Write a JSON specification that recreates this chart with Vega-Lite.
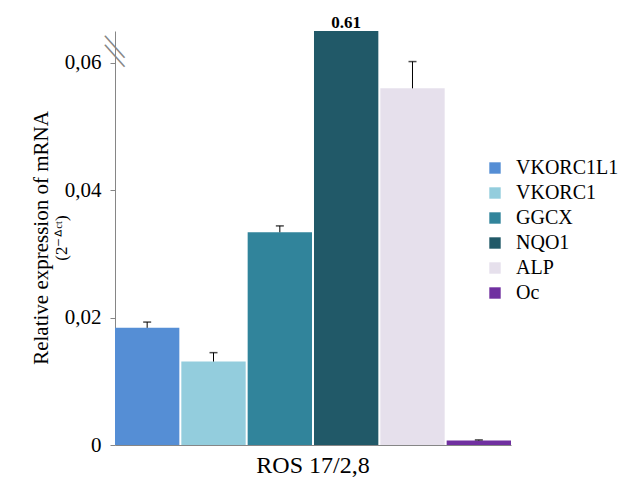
{
  "$schema": "https://vega.github.io/schema/vega-lite/v6.json",
  "width": 396,
  "height": 414,
  "padding": {"left": 31, "top": 14, "right": 110, "bottom": 5},
  "background": "white",
  "config": {"view": {"stroke": null}, "font": "Liberation Serif"},
  "title": {
    "text": "Relative expression  of mRNA",
    "subtitle": "(2⁻ᐞᶜᵗ)",
    "orient": "left",
    "anchor": "middle",
    "font": "Liberation Serif",
    "fontSize": 21,
    "fontWeight": "normal",
    "color": "black",
    "subtitleFont": "Liberation Serif",
    "subtitleFontSize": 17,
    "subtitleColor": "black",
    "subtitlePadding": 2,
    "offset": -6
  },
  "data": {
    "values": [
      {"group": "ROS 17/2,8", "gene": "VKORC1L1", "value": 0.0184, "upper": 0.0193},
      {"group": "ROS 17/2,8", "gene": "VKORC1", "value": 0.0131, "upper": 0.0145},
      {"group": "ROS 17/2,8", "gene": "GGCX", "value": 0.0334, "upper": 0.0344},
      {"group": "ROS 17/2,8", "gene": "NQO1", "value": 0.61, "upper": null},
      {"group": "ROS 17/2,8", "gene": "ALP", "value": 0.056, "upper": 0.0602},
      {"group": "ROS 17/2,8", "gene": "Oc", "value": 0.0007, "upper": 0.0008}
    ]
  },
  "layer": [
    {
      "mark": {"type": "bar", "clip": true},
      "encoding": {
        "x": {"field": "group", "type": "nominal", "scale": {"paddingInner": 0, "paddingOuter": 0},
          "axis": {"title": null, "labelAngle": 0, "ticks": false, "domainColor": "#868686", "labelFont": "Liberation Serif", "labelFontSize": 24, "labelColor": "black", "labelPadding": 8, "labelDx": 18}},
        "xOffset": {"field": "gene", "type": "nominal", "sort": ["VKORC1L1", "VKORC1", "GGCX", "NQO1", "ALP", "Oc"], "scale": {"paddingInner": 0.03, "paddingOuter": 0}},
        "y": {"field": "value", "type": "quantitative", "scale": {"domain": [0, 0.065], "nice": false},
          "axis": {"title": null, "values": [0, 0.02, 0.04, 0.06], "grid": false, "domainColor": "#868686", "tickColor": "#868686", "tickSize": 5, "labelFont": "Liberation Serif", "labelFontSize": 21, "labelColor": "black", "labelPadding": 9,
            "labelExpr": "datum.value == 0 ? '0' : replace(format(datum.value, '.2f'), '.', ',')"}},
        "color": {"field": "gene", "type": "nominal", "sort": ["VKORC1L1", "VKORC1", "GGCX", "NQO1", "ALP", "Oc"],
          "scale": {"domain": ["VKORC1L1", "VKORC1", "GGCX", "NQO1", "ALP", "Oc"], "range": ["#558ED5", "#93CDDD", "#31849B", "#215968", "#E6E0EC", "#7030A0"]},
          "legend": {"title": null, "orient": "none", "legendX": 370, "legendY": 127, "symbolType": "square", "symbolSize": 130, "symbolStrokeWidth": 0, "labelFont": "Liberation Serif", "labelFontSize": 20, "labelColor": "black", "labelLimit": 300, "rowPadding": 5, "labelOffset": 11}}
      }
    },
    {
      "transform": [{"filter": "datum.upper != null"}],
      "mark": {"type": "rule", "color": "black", "strokeWidth": 1},
      "encoding": {
        "x": {"field": "group", "type": "nominal"},
        "xOffset": {"field": "gene", "type": "nominal", "sort": ["VKORC1L1", "VKORC1", "GGCX", "NQO1", "ALP", "Oc"]},
        "y": {"field": "value", "type": "quantitative"},
        "y2": {"field": "upper"}
      }
    },
    {
      "transform": [{"filter": "datum.upper != null"}],
      "mark": {"type": "tick", "color": "black", "thickness": 1.5, "size": 8, "orient": "horizontal"},
      "encoding": {
        "x": {"field": "group", "type": "nominal"},
        "xOffset": {"field": "gene", "type": "nominal", "sort": ["VKORC1L1", "VKORC1", "GGCX", "NQO1", "ALP", "Oc"]},
        "y": {"field": "upper", "type": "quantitative"}
      }
    },
    {
      "transform": [{"filter": "datum.gene == 'NQO1'"}],
      "mark": {"type": "text", "font": "Liberation Serif", "fontSize": 17, "fontWeight": "bold", "baseline": "bottom", "dy": 1, "color": "black"},
      "encoding": {
        "x": {"field": "group", "type": "nominal"},
        "xOffset": {"field": "gene", "type": "nominal", "sort": ["VKORC1L1", "VKORC1", "GGCX", "NQO1", "ALP", "Oc"]},
        "y": {"datum": 0.065, "type": "quantitative"},
        "text": {"field": "value", "type": "quantitative", "format": ".2f"}
      }
    },
    {
      "transform": [{"filter": "datum.gene == 'VKORC1L1'"}],
      "mark": {"type": "text", "text": "—", "font": "Liberation Serif", "fontSize": 29, "angle": 48, "color": "#868686", "baseline": "middle", "align": "center", "dx": 2},
      "encoding": {
        "x": {"field": "group", "type": "nominal", "bandPosition": 0},
        "y": {"datum": 0.063, "type": "quantitative"}
      }
    },
    {
      "transform": [{"filter": "datum.gene == 'VKORC1L1'"}],
      "mark": {"type": "text", "text": "—", "font": "Liberation Serif", "fontSize": 29, "angle": 48, "color": "#868686", "baseline": "middle", "align": "center", "dx": 2},
      "encoding": {
        "x": {"field": "group", "type": "nominal", "bandPosition": 0},
        "y": {"datum": 0.0616, "type": "quantitative"}
      }
    }
  ]
}
